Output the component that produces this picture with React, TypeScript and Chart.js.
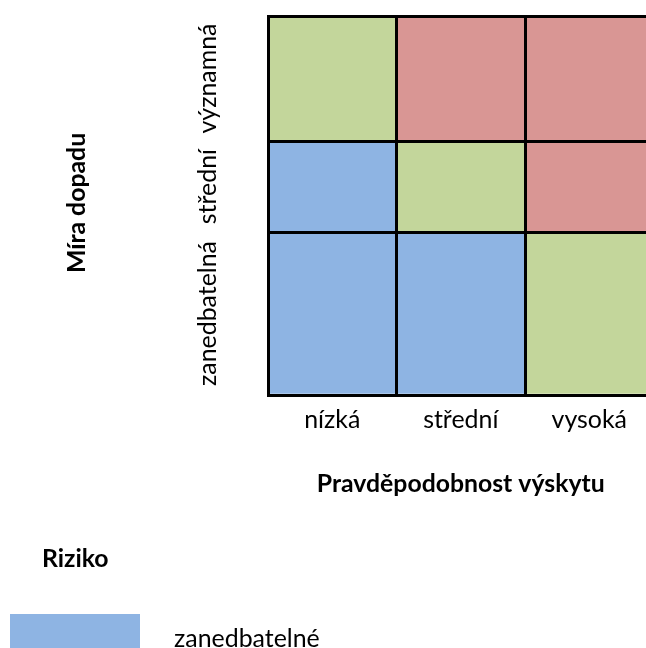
import React, { useEffect, useRef } from 'react';
import { Chart, registerables } from 'chart.js';

Chart.register(...registerables);

// ---- data ----
const probabilityLabels = ['nízká', 'střední', 'vysoká'];
const impactLabels = ['zanedbatelná', 'střední', 'významná'];
const impactSpans = [4.3, 2.4, 3.3];
// risk level per impact row (bottom→top) and probability column
const riskRowLow = [0, 0, 1];
const riskRowMid = [0, 1, 2];
const riskRowHigh = [1, 2, 2];
const riskColors = ['#8EB4E3', '#C3D69B', '#D99694'];
const legendLabels = ['zanedbatelné'];
const xTitle = 'Pravděpodobnost výskytu';
const yTitle = 'Míra dopadu';
const legendTitle = 'Riziko';

const riskMatrix = [riskRowLow, riskRowMid, riskRowHigh];

const W = 672;
const H = 648;
const FONT = 'Lato, "Open Sans", sans-serif';

function fitSize(text: string, weight: string, target: number): number {
  const c = document.createElement('canvas').getContext('2d') as CanvasRenderingContext2D;
  c.font = `${weight} 100px ${FONT}`;
  return (100 * target) / c.measureText(text).width;
}

export default function App() {
  const ref = useRef<HTMLCanvasElement | null>(null);

  useEffect(() => {
    if (!ref.current) return;
    const regSize = fitSize('zanedbatelná', 'normal', 145);
    const boldSize = fitSize(xTitle, 'bold', 288);
    const boundaries = impactSpans.reduce<number[]>((acc, v) => [...acc, acc[acc.length - 1] + v], [0]);

    const textPlugin = {
      id: 'riskTexts',
      afterDraw(chart: any) {
        const { ctx, chartArea } = chart;
        const yScale = chart.scales.y;
        ctx.save();
        ctx.fillStyle = '#000';
        ctx.textAlign = 'center';
        ctx.textBaseline = 'alphabetic';

        // x title
        ctx.font = `bold ${boldSize}px ${FONT}`;
        ctx.fillText(xTitle, (chartArea.left + chartArea.right) / 2, 492);

        // y title
        ctx.save();
        ctx.translate(85, 203);
        ctx.rotate(-Math.PI / 2);
        ctx.fillText(yTitle, 0, 0);
        ctx.restore();

        // impact row labels
        ctx.font = `${regSize}px ${FONT}`;
        impactLabels.forEach((lab, i) => {
          const mid = (boundaries[i] + boundaries[i + 1]) / 2;
          const py = yScale.getPixelForValue(mid);
          ctx.save();
          ctx.translate(216, py);
          ctx.rotate(-Math.PI / 2);
          ctx.fillText(lab, 0, 0);
          ctx.restore();
        });

        // legend
        ctx.textAlign = 'left';
        ctx.font = `bold ${boldSize}px ${FONT}`;
        ctx.fillText(legendTitle, 42, 567);
        ctx.font = `${regSize}px ${FONT}`;
        legendLabels.forEach((lab, i) => {
          const y0 = 614 + i * 60;
          ctx.fillStyle = riskColors[i];
          ctx.fillRect(10, y0, 130, 40);
          ctx.fillStyle = '#000';
          ctx.fillText(lab, 174, y0 + 33);
        });
        ctx.restore();
      },
    };

    const chart = new Chart(ref.current, {
      type: 'bar',
      data: {
        labels: probabilityLabels,
        datasets: impactLabels.map((lab, i) => ({
          label: lab,
          data: probabilityLabels.map(() => impactSpans[i]),
          backgroundColor: riskMatrix[i].map((r) => riskColors[r]),
          borderWidth: 0,
          barPercentage: 1,
          categoryPercentage: 1,
        })),
      },
      options: {
        responsive: false,
        animation: false,
        devicePixelRatio: 1,
        layout: { padding: { left: 268, top: 16, right: W - 653.5, bottom: 0 } },
        plugins: {
          legend: { display: false },
          tooltip: { enabled: false },
        },
        scales: {
          x: {
            stacked: true,
            offset: true,
            z: 1,
            grid: { display: true, offset: true, color: '#000', lineWidth: 3, drawTicks: false, z: 1 },
            border: { display: true, color: '#000', width: 3, z: 1 },
            ticks: { color: '#000', font: { family: FONT, size: regSize }, padding: 10, z: 1 },
            afterFit: (s: any) => {
              s.height = H - 395;
            },
          },
          y: {
            stacked: true,
            min: 0,
            max: boundaries[boundaries.length - 1],
            z: 1,
            grid: { color: '#000', lineWidth: 3, drawTicks: false, z: 1 },
            border: { display: true, color: '#000', width: 3, z: 1 },
            ticks: { display: false },
            afterBuildTicks: (s: any) => {
              s.ticks = boundaries.map((v) => ({ value: v }));
            },
            afterFit: (s: any) => {
              s.width = 0;
            },
          },
        },
      },
      plugins: [textPlugin],
    } as any);

    return () => chart.destroy();
  }, []);

  return (
    <div
      style={{
        position: 'absolute',
        left: 0,
        top: 0,
        width: 646,
        height: 648,
        overflow: 'hidden',
        background: '#fff',
      }}
    >
      <canvas ref={ref} width={W} height={H} style={{ display: 'block', width: W, height: H }} />
    </div>
  );
}
